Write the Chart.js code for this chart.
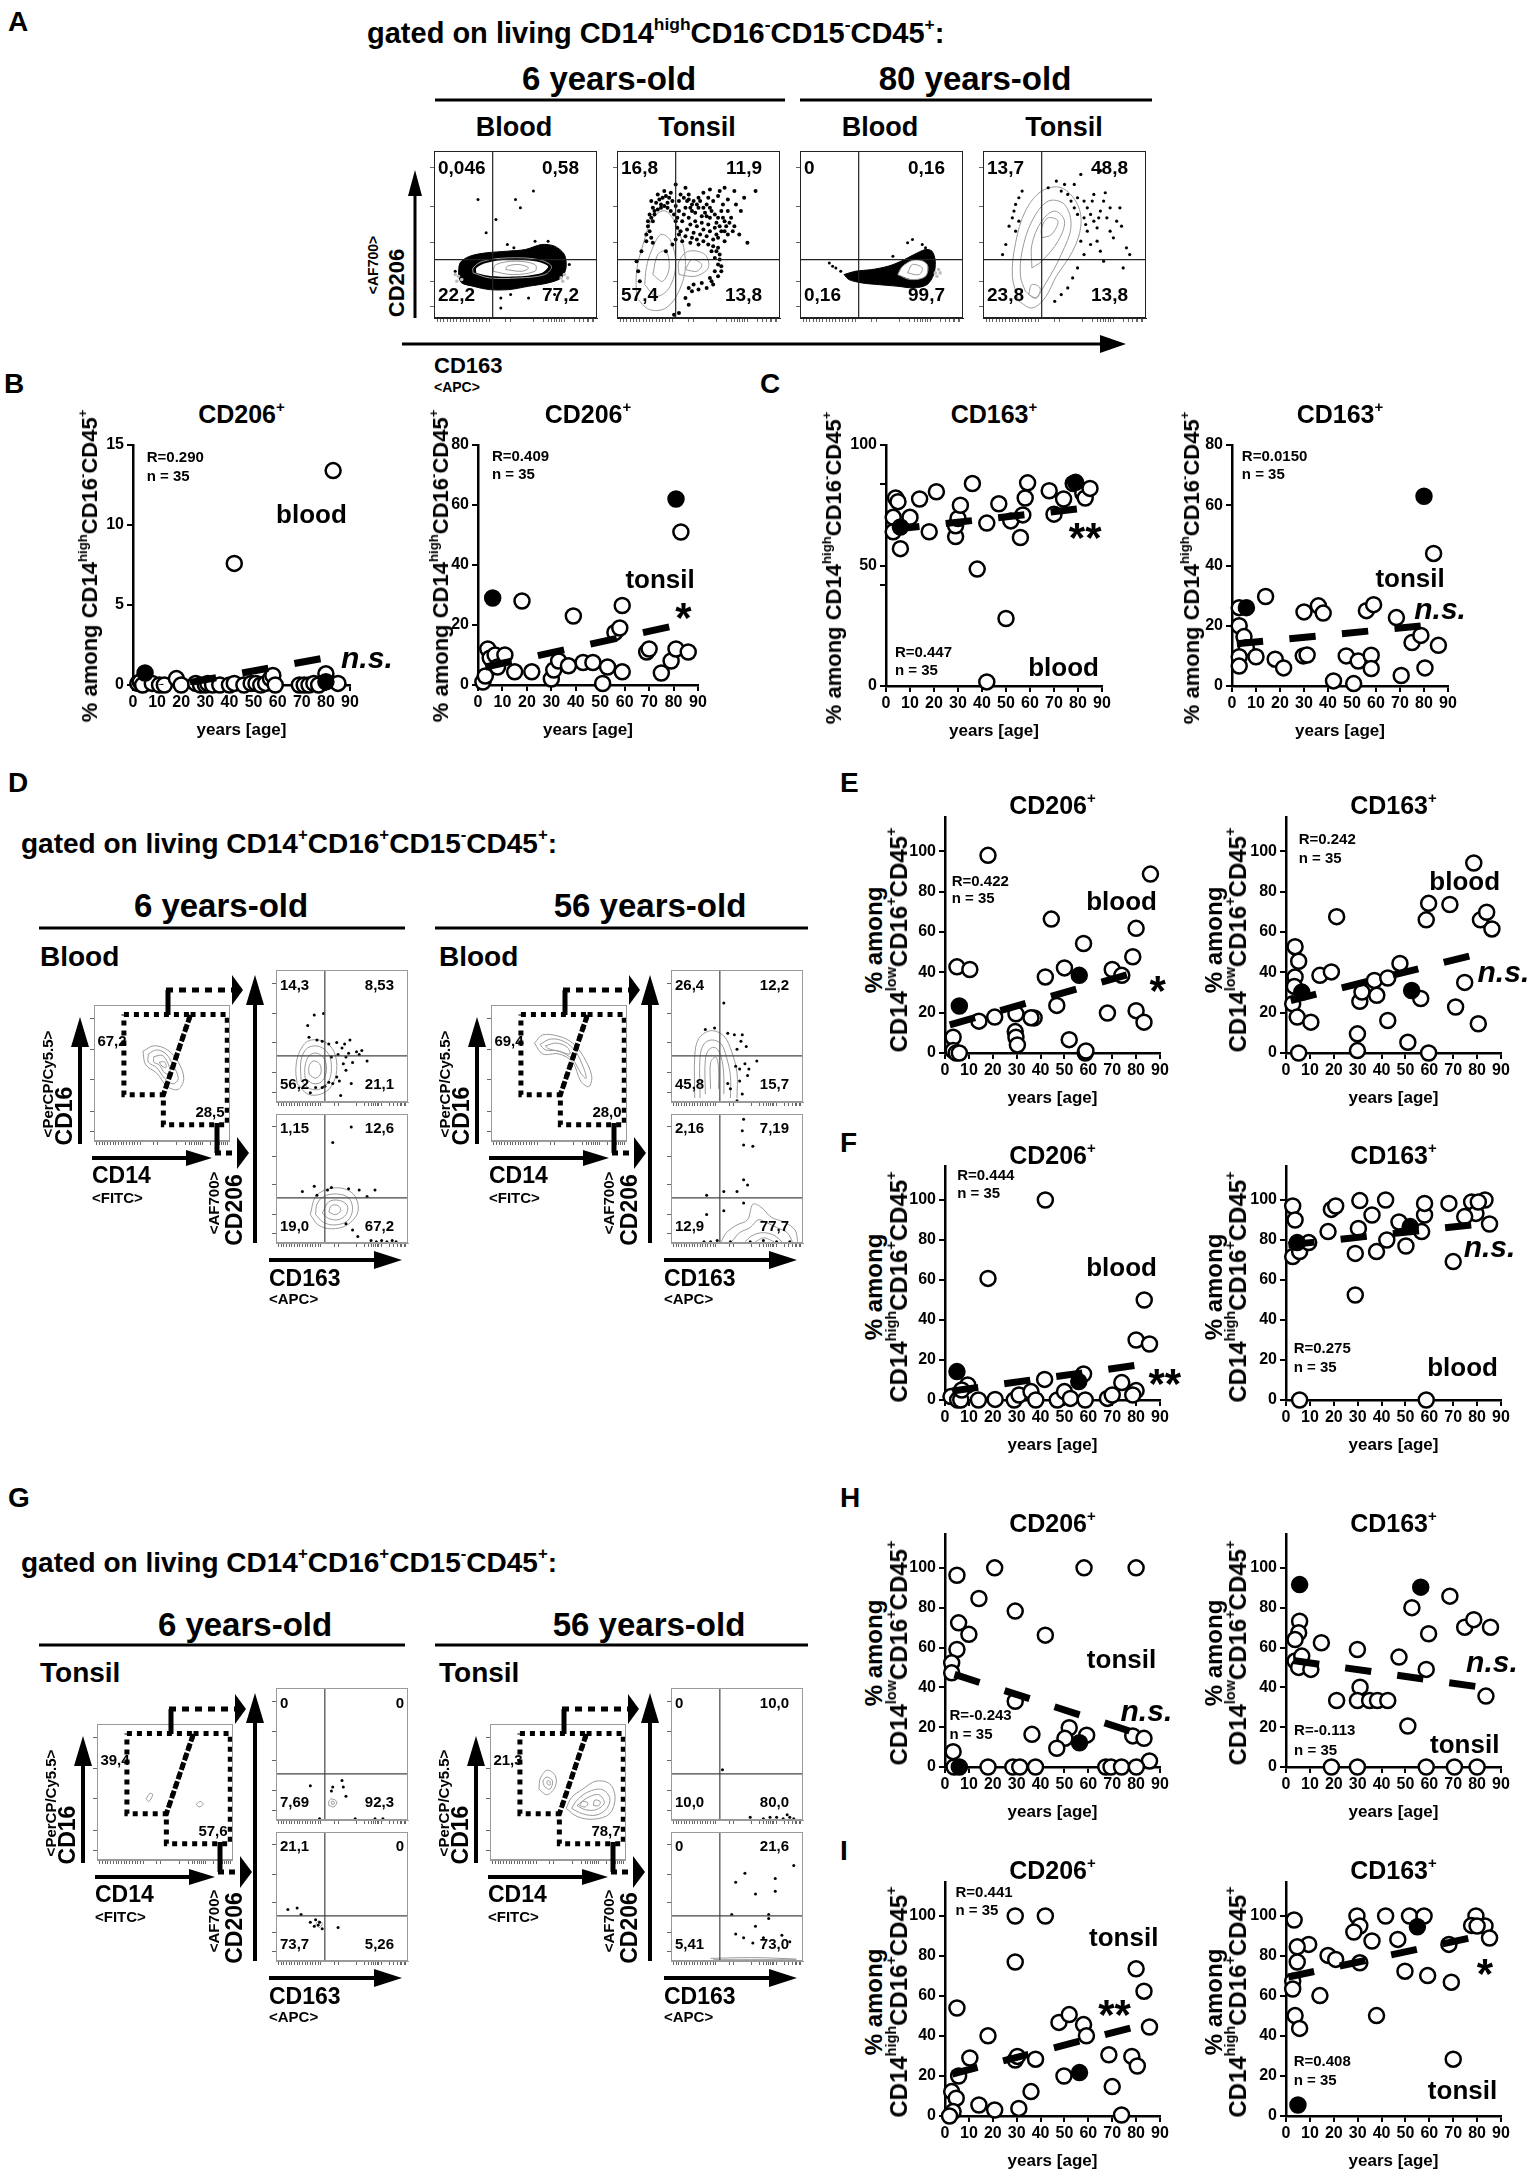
<!DOCTYPE html>
<html><head><meta charset="utf-8"><title>CD206 / CD163 monocytes by age</title>
<script src="https://cdn.jsdelivr.net/npm/chart.js@4.4.1/dist/chart.umd.min.js"></script>
<style>
html,body{margin:0;padding:0;background:#fff;}
#fig{position:relative;width:1538px;height:2171px;overflow:hidden;background:#fff;}
.t{position:absolute;white-space:nowrap;font-family:"Liberation Sans",Arial,Helvetica,sans-serif;font-weight:bold;line-height:1;color:#000;}
.t sup{font-size:0.6em;line-height:0;position:relative;top:-0.75em;vertical-align:0;}
.cv{position:absolute;}
svg{position:absolute;left:0;top:0;}
</style></head><body><div id="fig"></div>
<script>
// ======================= DATA =======================
const AGE_TICKS=[0,10,20,30,40,50,60,70,80,90];
const PCT_TICKS=[0,20,40,60,80,100];
const B_BLOOD_TICKS=[0,5,10,15];
const B_TONSIL_TICKS=[0,20,40,60,80];
const C_BLOOD_TICKS=[0,42,50,84,100];
const C_BLOOD_LABELS=[0,50,100];
const C_TONSIL_TICKS=[0,20,40,60,80];

// Panel B: % CD206+ among CD14high CD16- CD45+  (age, %)
const B_BLOOD_OPEN=[[2,0.1],[3,0.2],[4,0],[8,0.1],[11,0],[13,0],[18,0.4],[20,0],[26,0.1],[28,0],[30,0],[31,0.1],[33,0],[36,0],[40,0],[42,0.1],[42,7.6],[46,0],[49,0.1],[51,0.1],[53,0],[55,0.1],[57,0.4],[58,0.6],[59,0],[69,0],[71,0],[73,0],[75,0.1],[77,0],[80,0.7],[83,13.4],[85,0.1]];
const B_BLOOD_FILL=[[5,0.75],[80,0.2]];
const B_BLOOD_FIT=[[2,-0.43],[80,1.7]];
const B_TONSIL_OPEN=[[2,1],[3,3],[4,12],[5,9],[7,10],[8,6],[11,10],[15,4.4],[18,28],[22,4.4],[30,2],[31,5],[33,8],[37,6.4],[39,23],[43,7.5],[47,7.5],[51,0.5],[53,6],[56,17.5],[58,19],[59,4.4],[59,26.5],[69,11],[70,12],[75,4],[79,8],[81,12],[83,51],[86,11]];
const B_TONSIL_FILL=[[6,29],[81,62]];
const B_TONSIL_FIT=[[3,6],[79,19.5]];

// Panel C: % CD163+ among CD14high CD16- CD45+
const C_BLOOD_OPEN=[[3,70],[3,64],[4,78],[5,76.5],[6,57],[10,70],[14,77.6],[18,64],[21,80.6],[29,62],[29,66.5],[30,69.5],[31,75],[36,84],[38,48.5],[42,67.6],[42,1.7],[47,75.6],[50,28],[52,68.5],[56,61.6],[57,71],[58,78],[59,84.3],[68,81],[70,71.3],[74,77.6],[78,84],[82,80],[83,78],[85,82]];
const C_BLOOD_FILL=[[6,66],[79,84.5]];
const C_BLOOD_FIT=[[3,65],[80,73.5]];
const C_TONSIL_OPEN=[[3,26],[3,20],[5,16.4],[6,12.7],[3,9.7],[3,6.6],[10,9.7],[14,29.7],[18,8.9],[21.5,6],[30,24.6],[29.7,10],[31.3,10.3],[36,26.6],[38,24.2],[42.3,1.7],[47.6,10],[50.7,0.8],[52.6,8.3],[56,25],[59,27],[58,10.2],[58,5.8],[68.5,22.7],[70.5,3.5],[75,14.4],[78.7,16.8],[80.4,6],[86,13.5],[84,44]];
const C_TONSIL_FILL=[[6,26],[80,63]];
const C_TONSIL_FIT=[[2,14],[80,20]];

// Panel E: CD14low CD16+ CD45+ blood
const E206_OPEN=[[18,98],[86,88.7],[44.5,66.4],[80,61.8],[58,54.3],[78.6,47.7],[50,42.2],[70,41.4],[74,38.5],[42,37.7],[5,42.7],[10.4,41.4],[14.2,15.8],[20.8,17.8],[29.7,19.4],[37.3,17.4],[46.8,23.6],[68,19.8],[80,21],[83.3,15.3],[3.4,7.8],[3.4,1.2],[4.7,0],[6,0],[29.4,10.6],[29.7,7.8],[30.3,4],[52,6.6],[58.7,0],[36,17.5],[59,1]];
const E206_FILL=[[6,23.3],[56.2,38.5]];
const E206_FIT=[[2,14],[80,40]];
const E163_OPEN=[[78.6,94.2],[59.7,74.2],[58.7,66],[68.6,73.6],[21.2,67.6],[81.4,66],[84,69.8],[86.2,61.5],[3.8,52.7],[5.3,45.5],[3.8,37.7],[2.8,24.4],[4.7,17.8],[10.4,15.3],[5.3,0],[14.2,38.5],[19,40.2],[30.9,25.6],[29.9,9.5],[29.9,1.2],[31.8,30.2],[37,36],[38,28.6],[42.6,16.1],[42.6,37.2],[47.7,44.4],[51,5.3],[56.4,27],[59.7,0],[71,22.8],[74.8,35],[80.5,14.5],[3.5,33]];
const E163_FILL=[[6.6,30.2],[52.6,31]];
const E163_FIT=[[2,26],[80,49]];

// Panel F: CD14high CD16+ CD45+ blood
const F206_OPEN=[[42,100],[18,60.8],[83.4,50],[80,30],[85.6,28],[41.7,10.3],[58,13],[74,8.7],[80,4.7],[78.6,2.5],[9.5,7.5],[2.5,1.7],[5.3,0],[6.6,0],[14,0],[21,0.3],[29,0],[31,2.5],[36,4.2],[38,0],[47,0],[50,4.2],[52.5,0.8],[58.7,0],[68,0.8],[70,2.5],[7,5]];
const F206_FILL=[[5,14.2],[56,9.2]];
const F206_FIT=[[3,4.5],[81,17.5]];
const F163_OPEN=[[2.8,97],[3.8,90],[2.8,71.7],[5.7,74.2],[9.5,78.7],[19,95.3],[20.8,97],[17.6,84.2],[29,52.5],[29,73.3],[30.3,85.8],[30.9,99.7],[36,92.5],[37.9,74.2],[41.7,100],[42.2,80],[47.3,89],[50.2,77],[56.8,84.2],[58,92.5],[58,98.3],[68.2,98.3],[70,69.2],[77.7,99],[79.5,93.3],[83.3,100],[80.5,99],[74.8,91.7],[85.2,88],[5.7,0],[58.7,0]];
const F163_FILL=[[4.7,78.7],[52,86.7]];
const F163_FIT=[[1,77.5],[81,88]];

// Panel H: CD14low CD16+ CD45+ tonsil
const H206_OPEN=[[20.8,100],[58.2,100],[80,100],[5,96.3],[14.2,84.6],[29.4,78.3],[5.7,72.4],[10,66.6],[5,59],[42,66.2],[2.8,52.3],[2.8,47.3],[29.4,33],[36.4,16.4],[52,19.7],[50.2,14.4],[46.8,9.4],[59.3,16],[78.6,15.6],[83.3,14.4],[85.6,3],[3.4,7.7],[3.8,0],[18,0],[28.4,0],[31.3,0],[37.9,0],[67.3,0],[69.5,0],[73.9,0],[80.1,0]];
const H206_FILL=[[6,0],[56.3,12.2]];
const H206_FIT=[[4,46.5],[80,17]];
const H163_OPEN=[[68.6,85.8],[52.7,80],[5.7,73.2],[5.3,67.4],[3.8,64],[14.8,62.4],[29.9,59],[59.7,66.9],[58.7,49],[74.8,70.2],[78.6,74],[85.6,70.2],[47.3,55.2],[3.8,53.2],[6.6,55.7],[5.3,50],[10.4,49],[31,40.1],[29.9,33.4],[35,33.4],[38.3,33.4],[42.6,33.4],[21.2,33.4],[51,20.6],[83.7,35.6],[19,0],[29.9,0],[58.7,0],[70.5,0],[80,0]];
const H163_FILL=[[5.7,91.6],[56.4,90.3]];
const H163_FIT=[[3,53.5],[82,40]];

// Panel I: CD14high CD16+ CD45+ tonsil
const I206_OPEN=[[29.4,100],[42,100],[29.4,77],[80,73.6],[83.3,62.4],[5,54],[18,40.1],[47.7,46.8],[52,50.7],[58,45.7],[59.2,40.1],[68.6,30.6],[78.2,29.8],[80.5,25],[85.6,44.5],[10.4,29],[5.7,20],[29.4,28],[30.3,29.8],[37.9,28.4],[49.8,20],[70,14.7],[73.9,0.5],[2.8,12.2],[4.7,8.9],[3.4,2.2],[1.9,0],[14.2,5.5],[20.8,3],[30.9,3.8],[36,12.2]];
const I206_FILL=[[56.3,21.7]];
const I206_FIT=[[3,21],[81,45]];
const I163_OPEN=[[3.4,98],[29.7,100],[30.9,95],[28.4,92],[41.7,100],[51.7,100],[57.8,100],[79.5,100],[77.7,95.3],[83.3,95],[80,95],[85.2,89],[36,87.5],[46.8,88.3],[9.5,85.8],[4.7,84.6],[4.7,77],[17.6,80.3],[20.8,78.3],[30.9,76.6],[49.8,72.4],[59.3,70.2],[68.2,85.8],[69.2,66.9],[2.8,67.4],[2.8,63.5],[14.2,60.2],[3.8,50.2],[5.7,43.8],[37.9,50.2],[70,28.4]];
const I163_FILL=[[5,5.5],[55,94.6]];
const I163_FIT=[[1,69.5],[81,90]];

// ---- flow cytometry plots (relative 0-100 channel units) ----
const FLOW_XTICKS=[2,4,6,8,10,12,14,16,18,20,22,24,26,28,30,32,34,44,47,61,67,70,72,74,75,77,78,80,86,89,92,94,95,97,98];
const FLOW_YTICKS=[7,22,45,67,90];
const QUAD_A=[36,35];
const QUAD_D=[37,35];

// A: CD206 vs CD163, gated CD14high CD16- CD15- CD45+
const A1_NUMS=['0,046','0,58','22,2','77,2'];
const A1_BLOB=[[15,25],[16,33],[22,37],[32,39],[45,40],[56,41],[66,44],[74,43],[80,38],[81,30],[78,24],[70,21],[58,19],[46,17],[34,17],[24,19],[17,21]];
const A1_HOLE=[[26,27],[36,25],[52,25],[66,27],[70,31],[62,34],[46,35],[32,33],[26,30]];
const A1_CONT=[[[24,27],[34,24],[52,24],[68,26],[72,31],[64,35],[46,36],[30,34],[24,30]],[[36,28],[48,26],[62,28],[62,32],[50,34],[38,32]],[[44,29],[54,28],[58,30],[52,32],[45,31]]];
const A1_DOTS=[[27,71],[50,71],[53,66],[61,76],[38,59],[32,51],[45,44],[62,46],[49,42],[41,12],[47,14],[58,12],[74,14],[41,6],[83,32],[13,28],[70,46]];
const A1_GRAY=[[14,22],[15,25],[17,23],[13,26],[78,24],[80,26],[82,24],[79,22]];

const A2_NUMS=['16,8','11,9','57,4','13,8'];
const A2_CONT=[[[12,12],[20,5],[30,6],[38,16],[42,32],[38,52],[30,64],[22,60],[16,44],[12,28]],[[17,20],[24,13],[32,18],[36,32],[33,46],[27,50],[21,40],[18,30]],[[22,26],[28,22],[32,30],[30,40],[25,38]],[[38,26],[48,25],[56,30],[54,38],[44,40],[38,34]],[[42,29],[49,28],[52,32],[46,35]]];
const A2_DOTS=[[20,62],[22,66],[24,69],[26,71],[28,72],[30,73],[32,72],[34,70],[22,58],[19,55],[18,50],[18,46],[25,74],[29,76],[33,75],[23,64],[27,68],[31,69],[38,70],[41,72],[44,74],[47,70],[50,72],[53,75],[56,72],[59,70],[62,73],[65,68],[68,64],[70,60],[72,55],[38,64],[42,66],[46,64],[50,66],[54,63],[58,64],[62,60],[66,58],[40,58],[44,60],[48,58],[52,57],[56,56],[60,54],[64,52],[68,50],[39,52],[43,53],[47,51],[51,50],[55,49],[59,47],[40,46],[45,45],[50,44],[62,42],[58,40],[60,36],[62,32],[60,28],[57,24],[52,21],[47,20],[44,18],[42,12],[44,8],[38,3],[35,2],[66,78],[72,76],[78,72],[85,76],[75,50],[80,45],[14,22],[13,28],[12,34],[15,40],[36,80],[42,78],[30,40],[34,44],[21,70],[36,67],[46,68],[55,68],[64,64],[57,60],[52,61],[61,50],[66,46],[63,38],[64,28],[58,22],
 [19,58],[21,60],[23,62],[25,65],[27,66],[29,67],[31,66],[33,64],[35,62],[36,58],[37,54],[38,50],[36,47],[20,52],[21,48],[22,45],[39,74],[43,70],[45,66],[49,68],[51,70],[53,66],[55,61],[57,66],[60,62],[61,57],[63,55],[65,60],[67,55],[69,57],[71,52],[66,52],[62,48],[57,52],[53,53],[49,55],[45,56],[41,62],[37,60],[42,49],[46,48],[49,47],[53,46],[56,44],[59,43],[61,40],[63,35],[64,31],[62,25],[59,20],[55,18],[50,17],[46,16],[48,63],[44,71],[57,77],[63,76],[68,71],[73,68],[76,64]];

const A3_NUMS=['0','0,16','0,16','99,7'];
const A3_BLOB=[[27,26],[34,28],[44,29],[54,31],[62,34],[70,38],[77,41],[81,40],[83,34],[82,26],[78,20],[70,18],[60,19],[48,20],[38,21],[30,23]];
const A3_HOLE=[[60,26],[69,23],[77,25],[78,32],[71,35],[63,31]];
const A3_CONT=[[[60,26],[68,23],[77,25],[78,32],[71,35],[63,31]],[[66,27],[73,26],[75,30],[69,32]]];
const A3_DOTS=[[66,45],[75,44],[69,47],[77,42],[25,28],[22,30],[20,31],[57,37],[18,33]];
const A3_GRAY=[[83,27],[85,29],[84,25],[86,27]];

const A4_NUMS=['13,7','48,8','23,8','13,8'];
const A4_CONT=[[[22,10],[30,6],[38,12],[45,25],[55,40],[60,55],[58,68],[48,78],[36,76],[26,64],[20,45],[18,25]],[[26,16],[32,12],[38,20],[48,38],[54,55],[50,68],[40,70],[30,58],[24,40],[23,25]],[[30,30],[36,34],[46,46],[50,58],[44,64],[36,58],[30,44]],[[36,48],[42,50],[46,58],[40,60],[36,54]],[[28,14],[33,12],[35,18],[30,20]]];
const A4_DOTS=[[40,78],[45,82],[48,76],[52,74],[56,80],[58,72],[62,70],[64,66],[66,62],[68,58],[70,54],[72,64],[74,70],[76,60],[78,52],[80,48],[82,58],[84,66],[70,46],[72,40],[74,34],[66,44],[60,46],[62,38],[58,30],[55,24],[52,18],[48,14],[44,10],[60,86],[72,88],[88,42],[90,38],[86,30],[20,68],[22,72],[18,60],[24,76],[16,55],[20,52],[14,44],[12,38],[62,60],[64,52],[56,66],[67,70],[75,75],[68,74],[78,66],[71,60],[63,56],[85,55],[58,62],[54,70],[50,80],[19,64],[22,58]];

// D / G: CD16 vs CD14 gates, then CD206 vs CD163
const GATE_L=[[22,93],[71,93],[51,34],[22,34]];
const GATE_R=[[71,93],[98,93],[98,12],[51,12],[51,34]];

const D6_GNUMS=['67,2','28,5'];
const D6_GC=[[[36,66],[44,70],[54,67],[62,58],[66,46],[62,38],[54,40],[46,50],[38,56]],[[40,64],[46,67],[53,64],[58,56],[62,46],[58,42],[52,46],[46,54],[40,58]],[[44,62],[50,63],[54,58],[56,50],[52,50],[48,56],[44,58]],[[48,58],[52,58],[53,54],[50,55]]];
const D6_UNUMS=['14,3','8,53','56,2','21,1'];
const D6_UC=[[[16,14],[24,6],[34,6],[42,12],[46,24],[44,38],[36,46],[24,46],[17,36],[15,24]],[[19,16],[26,10],[34,10],[40,16],[42,26],[40,36],[33,42],[24,41],[19,32]],[[22,18],[28,14],[34,15],[38,22],[37,32],[31,37],[25,35],[22,27]],[[25,21],[30,18],[34,22],[33,29],[28,31],[25,27]]];
const D6_UD=[[36,67],[29,66],[24,58],[25,49],[31,47],[35,46],[40,44],[46,45],[50,41],[56,47],[61,38],[63,36],[53,34],[51,29],[58,30],[53,24],[46,19],[43,14],[48,16],[57,14],[37,12],[30,11],[26,7],[49,5],[69,31],[65,39],[55,37],[47,36],[42,34],[52,44],[40,15],[35,11]];
const D6_LNUMS=['1,15','12,6','19,0','67,2'];
const D6_LC=[[[26,22],[32,14],[42,11],[54,14],[62,24],[60,36],[52,42],[40,42],[30,36]],[[30,22],[36,16],[44,14],[54,17],[58,26],[55,35],[46,38],[36,36],[31,30]],[[35,23],[40,19],[47,18],[53,22],[54,29],[48,33],[40,32]],[[40,24],[45,22],[49,25],[47,29],[42,29]]];
const D6_LD=[[29,44],[39,41],[63,41],[75,41],[69,36],[31,37],[53,15],[62,5],[57,90],[43,78],[42,43],[55,42],[58,10],[72,2],[76,1],[80,2],[84,1],[88,2],[91,1],[20,40]];

const D56_GNUMS=['69,4','28,0'];
const D56_GC=[[[32,72],[38,78],[50,77],[60,72],[68,62],[74,48],[72,40],[66,44],[60,58],[50,64],[38,64]],[[36,71],[44,75],[54,73],[62,66],[68,54],[70,46],[66,50],[60,60],[50,66],[40,67]],[[40,70],[48,72],[56,69],[58,64],[50,66],[42,68]]];
const D56_UNUMS=['26,4','12,2','45,8','15,7'];
const D56_UO=[[[18,3],[18,35],[21,48],[30,54],[40,50],[46,38],[50,22],[50,3]],[[22,3],[22,34],[25,44],[31,47],[38,44],[42,34],[45,20],[45,3]],[[26,6],[26,32],[29,40],[34,41],[38,34],[40,20],[40,6]],[[30,10],[30,30],[34,34],[36,26],[36,10]]];
const D56_UD=[[40,75],[26,55],[33,56],[43,52],[48,51],[54,51],[57,42],[53,46],[50,40],[49,27],[52,25],[56,29],[58,20],[65,31],[52,16],[45,10],[43,14],[54,6],[50,1],[59,25]];
const D56_LNUMS=['2,16','7,19','12,9','77,7'];
const D56_LO=[[[38,1],[42,8],[50,14],[58,18],[62,30],[68,28],[76,20],[86,16],[94,10],[96,1]],[[46,1],[52,8],[60,12],[66,18],[72,16],[80,12],[88,8],[92,1]],[[56,1],[62,6],[70,8],[78,6],[84,1]],[[64,1],[70,4],[76,2],[78,1]]];
const D56_LD=[[55,96],[54,87],[55,76],[62,75],[55,49],[58,45],[50,40],[27,37],[40,40],[55,31],[40,25],[27,22],[30,1],[35,2],[45,1],[60,1],[70,2],[80,1],[90,1],[25,1]];

const G6_GNUMS=['39,4','57,6'];
const G6_GC=[[[36,45],[39,49],[41,48],[38,43]],[[73,41],[76,43],[78,41],[75,39]]];
const G6_UNUMS=['0','0','7,69','92,3'];
const G6_UC=[[[40,11],[44,10],[46,14],[42,16],[40,14]],[[42,12],[44,12],[44,14],[42,14]]];
const G6_UD=[[26,26],[43,25],[50,30],[51,25],[42,22],[53,18],[81,1],[60,1],[75,1],[33,1]];
const G6_LNUMS=['21,1','0','73,7','5,26'];
const G6_LC=[[[30,28],[33,26],[35,29],[32,31]]];
const G6_LD=[[9,40],[16,41],[19,36],[26,30],[30,32],[32,28],[47,26],[29,27],[33,30],[35,25]];

const G56_GNUMS=['21,3','78,7'];
const G56_GC=[[[36,52],[42,48],[48,54],[48,62],[42,66],[37,60]],[[40,54],[44,52],[46,58],[42,61],[39,58]],[[42,56],[44,55],[44,58],[42,58]],[[56,38],[64,32],[76,30],[88,34],[92,46],[88,56],[78,58],[68,52],[60,46]],[[60,38],[68,34],[78,33],[86,38],[88,46],[82,52],[72,50],[64,44]],[[64,40],[70,37],[78,37],[84,42],[80,48],[72,46]],[[66,40],[70,39],[72,42],[68,43]],[[76,40],[80,40],[81,43],[77,44]]];
const G56_UNUMS=['0','10,0','10,0','80,0'];
const G56_UD=[[39,38],[88,4],[80,2],[85,1],[90,2],[93,1],[70,1],[60,2],[75,2]];
const G56_LNUMS=['0','21,6','5,41','73,0'];
const G56_LD=[[93,74],[56,68],[49,61],[79,64],[64,52],[79,54],[46,36],[74,36],[74,33],[64,27],[49,21],[55,18],[62,14],[70,18],[84,20],[90,15]];
const G56_LO=[[[30,2],[50,2.5],[70,2.5],[95,1.5]],[[32,1],[60,1],[95,1]]];

// ======================= RENDERING =======================
const fig=document.getElementById('fig');
const FONT='"Liberation Sans", Arial, Helvetica, sans-serif';
Chart.defaults.font.family=FONT;
Chart.defaults.color='#000';

function T(html,x,y,o={}){
  const e=document.createElement('div');e.className='t';e.innerHTML=html;
  e.style.fontSize=(o.size||20)+'px';
  if(o.italic)e.style.fontStyle='italic';
  e.style.left=x+'px';e.style.top=y+'px';
  if(o.rot){e.style.transform='translate(-50%,-50%) rotate(-90deg)';}
  else if(o.align==='left'){e.style.transform='translateY(-50%)';}
  else if(o.align==='right'){e.style.transform='translate(-100%,-50%)';}
  else e.style.transform='translate(-50%,-50%)';
  fig.appendChild(e);return e;
}
function makeCanvas(l,t,w,h){
  const d=document.createElement('div');d.className='cv';
  d.style.left=l+'px';d.style.top=t+'px';d.style.width=w+'px';d.style.height=h+'px';
  const c=document.createElement('canvas');c.width=w;c.height=h;c.style.width=w+'px';c.style.height=h+'px';
  d.appendChild(c);fig.appendChild(d);return c;
}
const P=a=>a.map(([x,y])=>({x,y}));
const closed=a=>P(a.concat([a[0]]));

function notesPlugin(items){
  return {id:'notes',afterDatasetsDraw(chart){
    const {ctx,scales:{x,y}}=chart;
    items.forEach(it=>{
      ctx.save();
      ctx.font=(it.i?'italic ':'')+'bold '+it.s+'px '+FONT;
      ctx.fillStyle='#000';ctx.textAlign=it.a||'center';ctx.textBaseline='middle';
      const dy=it.star?0.2*it.s:0;
      ctx.fillText(it.t,x.getPixelForValue(it.x),y.getPixelForValue(it.y)+dy);
      ctx.restore();
    });
  }};
}

function scatterChart(o){
  const padL=50,padT=16,padR=84,padB=36;
  const W=(o.x90-o.x0)+padL+padR,H=(o.y0-o.yTop)+padT+padB;
  const cv=makeCanvas(o.x0-padL,o.yTop-padT,W,H);
  const dash=11*(o.x90-o.x0)/90;
  const labels=o.labels||o.ticks;
  new Chart(cv,{type:'scatter',
    data:{datasets:[
      {type:'line',data:P(o.fit),borderColor:'#000',borderWidth:7,borderDash:[dash,dash],borderCapStyle:'butt',pointRadius:0,fill:false,tension:0,order:0,clip:0},
      {data:P(o.fill),pointRadius:7.5,pointBackgroundColor:'#000',pointBorderColor:'#000',pointBorderWidth:2.5,backgroundColor:'#000',borderColor:'#000',order:1,clip:false},
      {data:P(o.open),pointRadius:7.5,pointBackgroundColor:'#fff',pointBorderColor:'#000',pointBorderWidth:2.5,backgroundColor:'#fff',borderColor:'#000',order:2,clip:false}
    ]},
    options:{responsive:false,animation:false,events:[],
      layout:{padding:{left:0,top:padT,right:padR,bottom:0}},
      plugins:{legend:{display:false},tooltip:{enabled:false}},
      scales:{
        x:{type:'linear',min:0,max:90,
          afterBuildTicks:s=>{s.ticks=AGE_TICKS.map(v=>({value:v}));},
          afterFit:s=>{s.height=padB;},
          ticks:{color:'#000',font:{size:16,weight:'bold'},padding:2,maxRotation:0,autoSkip:false},
          grid:{display:true,drawOnChartArea:false,drawTicks:true,tickLength:6,color:'#000',lineWidth:2},
          border:{display:true,color:'#000',width:2.5}},
        y:{type:'linear',min:0,max:o.yMax,
          afterBuildTicks:s=>{s.ticks=o.ticks.map(v=>({value:v}));},
          afterFit:s=>{s.width=padL;},
          ticks:{color:'#000',font:{size:16,weight:'bold'},padding:3,autoSkip:false,callback:v=>labels.includes(v)?String(v):''},
          grid:{display:true,drawOnChartArea:false,drawTicks:true,tickLength:6,color:'#000',lineWidth:2},
          border:{display:true,color:'#000',width:2.5}}
      }},
    plugins:[notesPlugin(o.notes)]
  });
}

function framePlugin(color){
  return {id:'frame',afterDraw(chart){const a=chart.chartArea,c=chart.ctx;c.save();c.strokeStyle=color;c.lineWidth=1;c.strokeRect(a.left+0.5,a.top+0.5,a.right-a.left-1,a.bottom-a.top-1);c.restore();}};
}
function flowChart(b,s){
  const m=5;
  const cv=makeCanvas(b.x-m,b.y,b.w+m,b.h+m);
  const ds=[];
  const contColor='#9a9a9a';
  (s.blobs||[]).forEach(p=>ds.push({type:'line',data:closed(p),borderColor:'#000',backgroundColor:'#000',borderWidth:1,fill:'shape',pointRadius:0,tension:0.3,order:8}));
  (s.holes||[]).forEach(p=>ds.push({type:'line',data:closed(p),borderColor:'#fff',backgroundColor:'#fff',borderWidth:0,fill:'shape',pointRadius:0,tension:0.3,order:7}));
  (s.cont||[]).forEach(p=>ds.push({type:'line',data:closed(p),borderColor:contColor,borderWidth:1,fill:false,pointRadius:0,tension:0.35,order:6}));
  (s.openCont||[]).forEach(p=>ds.push({type:'line',data:P(p),borderColor:contColor,borderWidth:1,fill:false,pointRadius:0,tension:0.35,order:6}));
  if(s.gray)ds.push({data:P(s.gray),pointRadius:1.8,pointBackgroundColor:'#bdbdbd',backgroundColor:'#bdbdbd',pointBorderWidth:0,borderWidth:0,order:5});
  if(s.dots)ds.push({data:P(s.dots),pointRadius:s.dotR||1.5,pointBackgroundColor:'#000',backgroundColor:'#000',pointBorderWidth:0,borderWidth:0,order:4});
  if(s.q){
    const [qx,qy]=s.q;
    ds.push({type:'line',data:P([[qx,0],[qx,100]]),borderColor:s.qc||'#222',borderWidth:1.2,pointRadius:0,fill:false,order:2});
    ds.push({type:'line',data:P([[0,qy],[100,qy]]),borderColor:s.qc||'#222',borderWidth:1.2,pointRadius:0,fill:false,order:2});
  }
  (s.gates||[]).forEach(p=>ds.push({type:'line',data:closed(p),borderColor:'#000',borderWidth:5,borderDash:[5,5],borderCapStyle:'butt',fill:false,pointRadius:0,tension:0,order:1,clip:false}));
  const fc=s.frame||'#222';
  new Chart(cv,{type:'scatter',data:{datasets:ds},
    options:{responsive:false,animation:false,events:[],layout:{padding:0},
      plugins:{legend:{display:false},tooltip:{enabled:false}},
      scales:{
        x:{type:'linear',min:0,max:100,afterBuildTicks:t=>{t.ticks=FLOW_XTICKS.map(v=>({value:v}));},afterFit:t=>{t.height=m;},
          ticks:{display:false},grid:{display:true,drawOnChartArea:false,drawTicks:true,tickLength:4,color:'#666',lineWidth:1},border:{display:true,color:fc,width:1}},
        y:{type:'linear',min:0,max:100,afterBuildTicks:t=>{t.ticks=FLOW_YTICKS.map(v=>({value:v}));},afterFit:t=>{t.width=m;},
          ticks:{display:false},grid:{display:true,drawOnChartArea:false,drawTicks:true,tickLength:4,color:'#666',lineWidth:1},border:{display:true,color:fc,width:1}}
      }},
    plugins:[framePlugin(fc)]});
}
function quadNums(nums,b,size,tl,bl,rm){
  T(nums[0],b.x+4,b.y+tl,{size,align:'left'});
  T(nums[1],b.x+b.w-(nums[1].length===1?8:rm),b.y+tl,{size,align:'right'});
  T(nums[2],b.x+4,b.y+b.h-bl,{size,align:'left'});
  T(nums[3],b.x+b.w-(nums[3].length===1?8:rm),b.y+b.h-bl,{size,align:'right'});
}

// ---------- Panel letters ----------
T('A',8,22,{size:28,align:'left'});
T('B',4,384,{size:28,align:'left'});
T('C',760,384,{size:28,align:'left'});
T('D',8,783,{size:28,align:'left'});
T('E',840,783,{size:28,align:'left'});
T('F',840,1143,{size:28,align:'left'});
T('G',8,1498,{size:28,align:'left'});
T('H',840,1498,{size:28,align:'left'});
T('I',840,1851,{size:28,align:'left'});

// ---------- Panel A ----------
T('gated on living CD14<sup>high</sup>CD16<sup>-</sup>CD15<sup>-</sup>CD45<sup>+</sup>:',367,33,{size:29,align:'left'});
T('6 years-old',609,78,{size:33});
T('80 years-old',975,78,{size:33});
T('Blood',514,127,{size:27});T('Tonsil',697,127,{size:27});
T('Blood',880,127,{size:27});T('Tonsil',1064,127,{size:27});
const AB=[434,617,800,983].map(x=>({x,y:147,w:167,h:171}));
flowChart(AB[0],{blobs:[A1_BLOB],holes:[A1_HOLE],cont:A1_CONT,dots:A1_DOTS,gray:A1_GRAY,q:QUAD_A});
flowChart(AB[1],{cont:A2_CONT,dots:A2_DOTS,dotR:2.0,q:QUAD_A});
flowChart(AB[2],{blobs:[A3_BLOB],holes:[A3_HOLE],cont:A3_CONT,dots:A3_DOTS,gray:A3_GRAY,q:QUAD_A});
flowChart(AB[3],{cont:A4_CONT,dots:A4_DOTS,dotR:1.6,q:QUAD_A});
[A1_NUMS,A2_NUMS,A3_NUMS,A4_NUMS].forEach((n,i)=>quadNums(n,AB[i],19,20,24,22));
T('CD206',397,283,{size:22,rot:1});
T('&lt;AF700&gt;',373,265,{size:14,rot:1});
T('CD163',434,366,{size:22,align:'left'});
T('&lt;APC&gt;',434,387,{size:14,align:'left'});

// ---------- Scatter panels ----------
const YT1='% among CD14<sup>high</sup>CD16<sup>-</sup>CD45<sup>+</sup>';
const SC=[
 {x0:133,x90:350,yTop:445,y0:685,yMax:15,ticks:B_BLOOD_TICKS,open:B_BLOOD_OPEN,fill:B_BLOOD_FILL,fit:B_BLOOD_FIT,title:'CD206',titleY:414,ytx:[90],yty:566,yt:[YT1],
  notes:[{t:'R=0.290',x:5.7,y:14.2,s:15,a:'left'},{t:'n = 35',x:5.7,y:13.0,s:15,a:'left'},{t:'blood',x:74,y:10.6,s:26},{t:'n.s.',x:97,y:1.6,s:30,i:1}]},
 {x0:478,x90:698,yTop:445,y0:685,yMax:80,ticks:B_TONSIL_TICKS,open:B_TONSIL_OPEN,fill:B_TONSIL_FILL,fit:B_TONSIL_FIT,title:'CD206',titleY:414,ytx:[441],yty:566,yt:[YT1],
  notes:[{t:'R=0.409',x:5.7,y:76.2,s:15,a:'left'},{t:'n = 35',x:5.7,y:70,s:15,a:'left'},{t:'tonsil',x:74.5,y:34.8,s:26},{t:'*',x:84,y:24.2,s:42,star:1}]},
 {x0:886,x90:1102,yTop:445,y0:686,yMax:100,ticks:C_BLOOD_TICKS,labels:C_BLOOD_LABELS,open:C_BLOOD_OPEN,fill:C_BLOOD_FILL,fit:C_BLOOD_FIT,title:'CD163',titleY:414,ytx:[834],yty:568,yt:[YT1],
  notes:[{t:'R=0.447',x:3.7,y:13.9,s:15,a:'left'},{t:'n = 35',x:3.7,y:6.2,s:15,a:'left'},{t:'blood',x:74,y:7.2,s:26},{t:'**',x:83,y:63.7,s:42,star:1}]},
 {x0:1232,x90:1448,yTop:445,y0:686,yMax:80,ticks:C_TONSIL_TICKS,open:C_TONSIL_OPEN,fill:C_TONSIL_FILL,fit:C_TONSIL_FIT,title:'CD163',titleY:414,ytx:[1192],yty:568,yt:[YT1],
  notes:[{t:'R=0.0150',x:4.1,y:76.2,s:15,a:'left'},{t:'n = 35',x:4.1,y:70,s:15,a:'left'},{t:'tonsil',x:74.2,y:35.4,s:26},{t:'n.s.',x:86.7,y:24.9,s:30,i:1}]},
 {x0:945,x90:1160,yTop:817,y0:1053,yMax:117,ticks:PCT_TICKS,open:E206_OPEN,fill:E206_FILL,fit:E206_FIT,title:'CD206',titleY:805,ytx:[874,899],yty:940,yt:['% among','CD14<sup>low</sup>CD16<sup>+</sup>CD45<sup>+</sup>'],
  notes:[{t:'R=0.422',x:2.8,y:85,s:15,a:'left'},{t:'n = 35',x:2.8,y:76.4,s:15,a:'left'},{t:'blood',x:73.9,y:74.3,s:26},{t:'*',x:89,y:33.6,s:42,star:1}]},
 {x0:1286,x90:1501,yTop:817,y0:1053,yMax:117,ticks:PCT_TICKS,open:E163_OPEN,fill:E163_FILL,fit:E163_FIT,title:'CD163',titleY:805,ytx:[1214,1238],yty:940,yt:['% among','CD14<sup>low</sup>CD16<sup>+</sup>CD45<sup>+</sup>'],
  notes:[{t:'R=0.242',x:5.3,y:105.8,s:15,a:'left'},{t:'n = 35',x:5.3,y:96.3,s:15,a:'left'},{t:'blood',x:74.8,y:84.2,s:26},{t:'n.s.',x:91,y:39.4,s:30,i:1}]},
 {x0:945,x90:1160,yTop:1166,y0:1400,yMax:117,ticks:PCT_TICKS,open:F206_OPEN,fill:F206_FILL,fit:F206_FIT,title:'CD206',titleY:1155,ytx:[874,899],yty:1287,yt:['% among','CD14<sup>high</sup>CD16<sup>+</sup>CD45<sup>+</sup>'],
  notes:[{t:'R=0.444',x:5.1,y:112,s:15,a:'left'},{t:'n = 35',x:5.1,y:103,s:15,a:'left'},{t:'blood',x:73.9,y:65.8,s:26},{t:'**',x:92,y:10.8,s:42,star:1}]},
 {x0:1286,x90:1501,yTop:1166,y0:1400,yMax:117,ticks:PCT_TICKS,open:F163_OPEN,fill:F163_FILL,fit:F163_FIT,title:'CD163',titleY:1155,ytx:[1214,1238],yty:1287,yt:['% among','CD14<sup>high</sup>CD16<sup>+</sup>CD45<sup>+</sup>'],
  notes:[{t:'R=0.275',x:3.2,y:25.5,s:15,a:'left'},{t:'n = 35',x:3.2,y:16.3,s:15,a:'left'},{t:'blood',x:73.9,y:15.8,s:26},{t:'n.s.',x:85.2,y:75.8,s:30,i:1}]},
 {x0:945,x90:1160,yTop:1534,y0:1767,yMax:117,ticks:PCT_TICKS,open:H206_OPEN,fill:H206_FILL,fit:H206_FIT,title:'CD206',titleY:1523,ytx:[874,899],yty:1653,yt:['% among','CD14<sup>low</sup>CD16<sup>+</sup>CD45<sup>+</sup>'],
  notes:[{t:'R=-0.243',x:1.9,y:25.6,s:15,a:'left'},{t:'n = 35',x:1.9,y:16,s:15,a:'left'},{t:'tonsil',x:73.9,y:53.2,s:26},{t:'n.s.',x:84.3,y:27.3,s:30,i:1}]},
 {x0:1286,x90:1501,yTop:1534,y0:1767,yMax:117,ticks:PCT_TICKS,open:H163_OPEN,fill:H163_FILL,fit:H163_FIT,title:'CD163',titleY:1523,ytx:[1214,1238],yty:1653,yt:['% among','CD14<sup>low</sup>CD16<sup>+</sup>CD45<sup>+</sup>'],
  notes:[{t:'R=-0.113',x:3.4,y:18,s:15,a:'left'},{t:'n = 35',x:3.4,y:8,s:15,a:'left'},{t:'tonsil',x:74.8,y:10.5,s:26},{t:'n.s.',x:86.2,y:51.8,s:30,i:1}]},
 {x0:945,x90:1160,yTop:1882,y0:2116,yMax:117,ticks:PCT_TICKS,open:I206_OPEN,fill:I206_FILL,fit:I206_FIT,title:'CD206',titleY:1870,ytx:[874,899],yty:2002,yt:['% among','CD14<sup>high</sup>CD16<sup>+</sup>CD45<sup>+</sup>'],
  notes:[{t:'R=0.441',x:4.4,y:111.7,s:15,a:'left'},{t:'n = 35',x:4.4,y:102.5,s:15,a:'left'},{t:'tonsil',x:74.8,y:88.6,s:26},{t:'**',x:71,y:53.5,s:42,star:1}]},
 {x0:1286,x90:1501,yTop:1882,y0:2116,yMax:117,ticks:PCT_TICKS,open:I163_OPEN,fill:I163_FILL,fit:I163_FIT,title:'CD163',titleY:1870,ytx:[1214,1238],yty:2002,yt:['% among','CD14<sup>high</sup>CD16<sup>+</sup>CD45<sup>+</sup>'],
  notes:[{t:'R=0.408',x:3.2,y:27.3,s:15,a:'left'},{t:'n = 35',x:3.2,y:17.7,s:15,a:'left'},{t:'tonsil',x:73.9,y:12.2,s:26},{t:'*',x:83.3,y:74,s:42,star:1}]}
];
SC.forEach(o=>{
  scatterChart(o);
  const cx=(o.x0+o.x90)/2;
  T(o.title+'<sup>+</sup>',cx,o.titleY,{size:25});
  T('years [age]',cx,o.y0+44,{size:17});
  o.yt.forEach((s,i)=>T(s,o.ytx[i],o.yty,{size:o.yt.length>1?24:22,rot:1}));
});

// ---------- Panels D and G ----------
T('gated on living CD14<sup>+</sup>CD16<sup>+</sup>CD15<sup>-</sup>CD45<sup>+</sup>:',21,844,{size:28,align:'left'});
T('gated on living CD14<sup>+</sup>CD16<sup>+</sup>CD15<sup>-</sup>CD45<sup>+</sup>:',21,1563,{size:28,align:'left'});
T('6 years-old',221,905,{size:33});T('56 years-old',650,905,{size:33});
T('Blood',40,957,{size:28,align:'left'});T('Blood',439,957,{size:28,align:'left'});
T('6 years-old',245,1624,{size:33});T('56 years-old',649,1624,{size:33});
T('Tonsil',40,1673,{size:28,align:'left'});T('Tonsil',439,1673,{size:28,align:'left'});

const GROUPS=[
 {bx:94,by:1005,rbx:276,rby:966,gc:D6_GC,gn:D6_GNUMS,u:{cont:D6_UC,dots:D6_UD},un:D6_UNUMS,l:{cont:D6_LC,dots:D6_LD},ln:D6_LNUMS},
 {bx:491,by:1005,rbx:671,rby:966,gc:D56_GC,gn:D56_GNUMS,u:{openCont:D56_UO,dots:D56_UD},un:D56_UNUMS,l:{openCont:D56_LO,dots:D56_LD},ln:D56_LNUMS},
 {bx:97,by:1724,rbx:276,rby:1684,gc:G6_GC,gn:G6_GNUMS,u:{cont:G6_UC,dots:G6_UD},un:G6_UNUMS,l:{cont:G6_LC,dots:G6_LD},ln:G6_LNUMS},
 {bx:490,by:1724,rbx:671,rby:1684,gc:G56_GC,gn:G56_GNUMS,u:{dots:G56_UD},un:G56_UNUMS,l:{openCont:G56_LO,dots:G56_LD},ln:G56_LNUMS}
];

// SVG overlay for arrows
const NS='http://www.w3.org/2000/svg';
const svg=document.createElementNS(NS,'svg');svg.setAttribute('width',1538);svg.setAttribute('height',2171);
function sl(x1,y1,x2,y2,w,dash){const l=document.createElementNS(NS,'line');l.setAttribute('x1',x1);l.setAttribute('y1',y1);l.setAttribute('x2',x2);l.setAttribute('y2',y2);l.setAttribute('stroke','#000');l.setAttribute('stroke-width',w);if(dash)l.setAttribute('stroke-dasharray',dash);svg.appendChild(l);}
function tri(pts){const p=document.createElementNS(NS,'polygon');p.setAttribute('points',pts.map(q=>q.join(',')).join(' '));p.setAttribute('fill','#000');svg.appendChild(p);}
function arrowUp(x,yb,yt,w,hl,hw){sl(x,yb,x,yt+hl-2,w);tri([[x,yt],[x-hw,yt+hl],[x+hw,yt+hl]]);}
function arrowRight(y,xl,xr,w,hl,hw){sl(xl,y,xr-hl+2,y,w);tri([[xr,y],[xr-hl,y-hw],[xr-hl,y+hw]]);}

GROUPS.forEach(g=>{
  const {bx,by,rbx,rby}=g;
  flowChart({x:bx,y:by,w:136,h:136},{cont:g.gc,gates:[GATE_L,GATE_R],frame:'#9a9a9a'});
  T(g.gn[0],bx+18,by+35,{size:15});T(g.gn[1],bx+116,by+106,{size:15});
  const ub={x:rbx,y:rby,w:136,h:136}, lb={x:rbx,y:rby+144,w:136,h:133};
  flowChart(ub,Object.assign({q:QUAD_D,qc:'#444',frame:'#9a9a9a'},g.u));
  flowChart(lb,Object.assign({q:QUAD_D,qc:'#444',frame:'#9a9a9a'},g.l));
  quadNums(g.un,ub,15,18,19,18);
  quadNums(g.ln,lb,15,17,18,18);
  // arrows
  arrowUp(bx-14,by+139,by+12,4,30,9);
  arrowRight(by+153,bx-2,bx+118,4,26,8);
  arrowUp(rbx-21,rby+277,rby+9,4,30,9);
  arrowRight(rby+294,rbx-7,rbx+126,4,28,9);
  sl(bx+74,by+10,bx+74,by-15,5);sl(bx+72,by-15,bx+138,by-15,5,'7 6');tri([[bx+149,by-15],[bx+138,by-30],[bx+138,by]]);
  sl(bx+123,by+118,bx+123,by+148,5);sl(bx+121,by+148,bx+143,by+148,5,'6 5');tri([[bx+155,by+148],[bx+143,by+132],[bx+143,by+164]]);
  // axis labels
  T('CD16',bx-30,by+111,{size:23,rot:1});
  T('&lt;PerCP/Cy5.5&gt;',bx-47,by+79,{size:15,rot:1});
  T('CD14',bx-2,by+170,{size:23,align:'left'});
  T('&lt;FITC&gt;',bx-2,by+192,{size:15,align:'left'});
  T('CD206',rbx-42,rby+244,{size:23,rot:1});
  T('&lt;AF700&gt;',rbx-63,rby+237,{size:15,rot:1});
  T('CD163',rbx-7,rby+312,{size:23,align:'left'});
  T('&lt;APC&gt;',rbx-7,rby+332,{size:15,align:'left'});
});

// Panel A arrows and header rules
arrowUp(415,318,170,3,26,7);
arrowRight(344,402,1126,3,26,9);
sl(435,100,785,100,3);sl(800,100,1152,100,3);
sl(39,928,405,928,3);sl(435,928,808,928,3);
sl(39,1645,405,1645,3);sl(435,1645,808,1645,3);
fig.appendChild(svg);
</script></body></html>
